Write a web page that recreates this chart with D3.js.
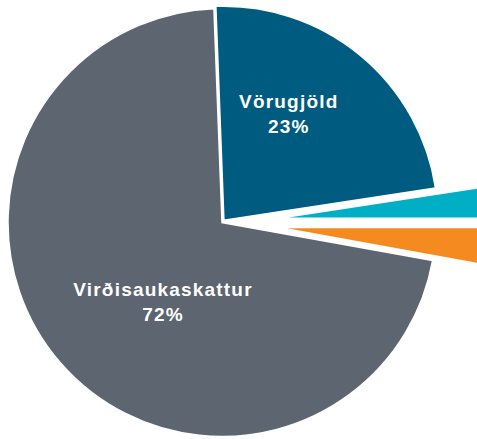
<!DOCTYPE html>
<html>
<head>
<meta charset="utf-8">
<script src="https://cdn.jsdelivr.net/npm/d3@7"></script>
<style>
  body { margin: 0; background: #fff; }
  svg { display: block; }
</style>
</head>
<body>
<div id="chart-area"></div>
<script>
// data
var categories = ["Vörugjöld", "Tollar", "Annað", "Virðisaukaskattur"];
var values = [23.2, 2.4, 2.85, 71.55];
var labelled = ["Vörugjöld", "Virðisaukaskattur"];

var colors = ["#005b80", "#00afc6", "#f58b20", "#5c6570"];
var explode = [3, 57, 57, 0];
// small nudges for the two labels (px)
var labelNudge = { "Vörugjöld": [-17, -7], "Virðisaukaskattur": [38, -5] };

var width = 477, height = 439;
var cx = 222, cy = 222.5, radius = 214;

var svg = d3.select("#chart-area").append("svg")
    .attr("width", width)
    .attr("height", height);

var start = -2.16 * Math.PI / 180;
var pie = d3.pie()
    .sort(null)
    .startAngle(start)
    .endAngle(start + 2 * Math.PI)
    .value((d) => d.value);

var data = categories.map((c, i) => ({ name: c, value: values[i], i: i }));
var arcs = pie(data);

var arc = d3.arc().innerRadius(0).outerRadius(radius);
var labelArc = d3.arc().innerRadius(radius * 0.6).outerRadius(radius * 0.6);

function offset(d) {
    var mid = (d.startAngle + d.endAngle) / 2;
    var e = explode[d.data.i];
    return [Math.sin(mid) * e, -Math.cos(mid) * e];
}

var g = svg.append("g").attr("transform", "translate(" + cx + "," + cy + ")");

g.selectAll("path")
    .data(arcs)
    .enter()
    .append("path")
        .attr("d", arc)
        .attr("transform", (d) => "translate(" + offset(d).join(",") + ")")
        .attr("fill", (d) => colors[d.data.i])
        .attr("stroke", "#fff")
        .attr("stroke-width", 1.5);

var pct = d3.format(".0%");
var lab = g.selectAll("text.lab")
    .data(arcs.filter((d) => labelled.indexOf(d.data.name) >= 0))
    .enter()
    .append("text")
        .attr("class", "lab")
        .attr("text-anchor", "middle")
        .attr("fill", "#fff")
        .style("font-family", "'Liberation Sans', Arial, sans-serif")
        .style("font-weight", "bold")
        .style("font-size", "19px")
        .style("letter-spacing", "1.2px")
        .attr("transform", (d) => {
            var c = labelArc.centroid(d);
            var o = offset(d);
            var n = labelNudge[d.data.name];
            return "translate(" + (c[0] + o[0] + n[0]) + "," + (c[1] + o[1] + n[1]) + ")";
        });

lab.append("tspan")
    .attr("x", 0)
    .attr("y", -6)
    .text((d) => d.data.name);
lab.append("tspan")
    .attr("x", 0)
    .attr("y", 19)
    .text((d) => pct(d.data.value / 100));
</script>
</body>
</html>
